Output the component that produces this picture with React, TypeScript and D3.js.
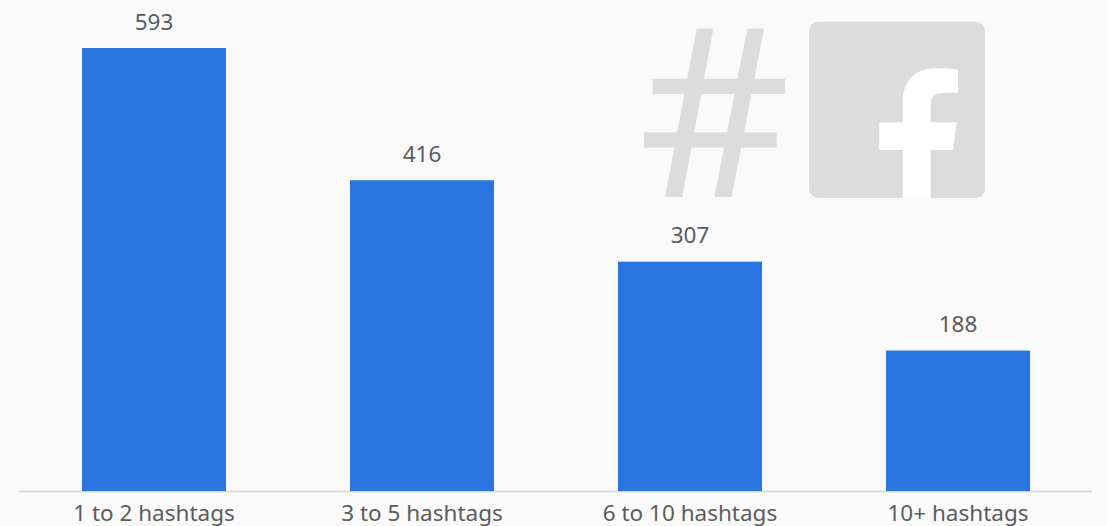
import React from "react";
import * as d3 from "d3";

const categories = ["1 to 2 hashtags", "3 to 5 hashtags", "6 to 10 hashtags", "10+ hashtags"];
const interactions = [593, 416, 307, 188];

const W = 1107;
const H = 526;
const baseY = 491;
const topY = 48;
const FONT = "'Noto Sans', 'Open Sans', sans-serif";

export default function App() {
  const x = d3.scaleBand<string>().domain(categories).range([20, 1092]).paddingInner(0.4627).paddingOuter(0.2313);
  const y = d3.scaleLinear().domain([0, 593]).range([baseY, topY]);
  return (
    <svg width={W} height={H} viewBox={`0 0 ${W} ${H}`} style={{ position: "fixed", left: 0, top: 0, display: "block" }}>
      <rect width={W} height={H} fill="#fafafa" />
      {/* hash icon */}
      <g fill="#dcdcdc">
        <polygon points="696.7,28.5 713.3,28.5 682.3,197 665,197" />
        <polygon points="747.3,28.5 764,28.5 731.7,197 714.3,197" />
        <rect x={652.7} y={78.7} width={132.3} height={15.3} />
        <rect x={644} y={132.3} width={132.7} height={15.4} />
      </g>
      {/* Facebook icon */}
      <rect x={809} y={21.7} width={176} height={176.3} rx={9} fill="#dcdcdc" />
      <path
        fill="#ffffff"
        d="M902.7 198 V150 H879.3 V122.3 H902.7 V102 C902.7 80 916 68.3 936 68.3 C945 68.3 952 68.8 958 69.5 V92.7 H944 C934 92.7 930.7 97 930.7 106 V122.3 H956.7 L953 150 H930.7 V198 Z"
      />
      {/* axis line */}
      <line x1={19} x2={1092} y1={baseY + 0.5} y2={baseY + 0.5} stroke="#d2d2d2" strokeWidth={1.5} />
      {categories.map((c, i) => {
        const bx = x(c)!;
        const cx = bx + x.bandwidth() / 2;
        return (
          <g key={c}>
            <rect x={bx} y={y(interactions[i])} width={x.bandwidth()} height={baseY - y(interactions[i])} fill="#2a75de" />
            <text x={cx} y={y(interactions[i]) - 18.5} textAnchor="middle" fontFamily={FONT} fontSize={22.5} fill="#5c5c5c">
              {interactions[i]}
            </text>
            <text x={cx} y={521} textAnchor="middle" fontFamily={FONT} fontSize={22.5} fill="#5c5c5c">
              {c}
            </text>
          </g>
        );
      })}
    </svg>
  );
}
